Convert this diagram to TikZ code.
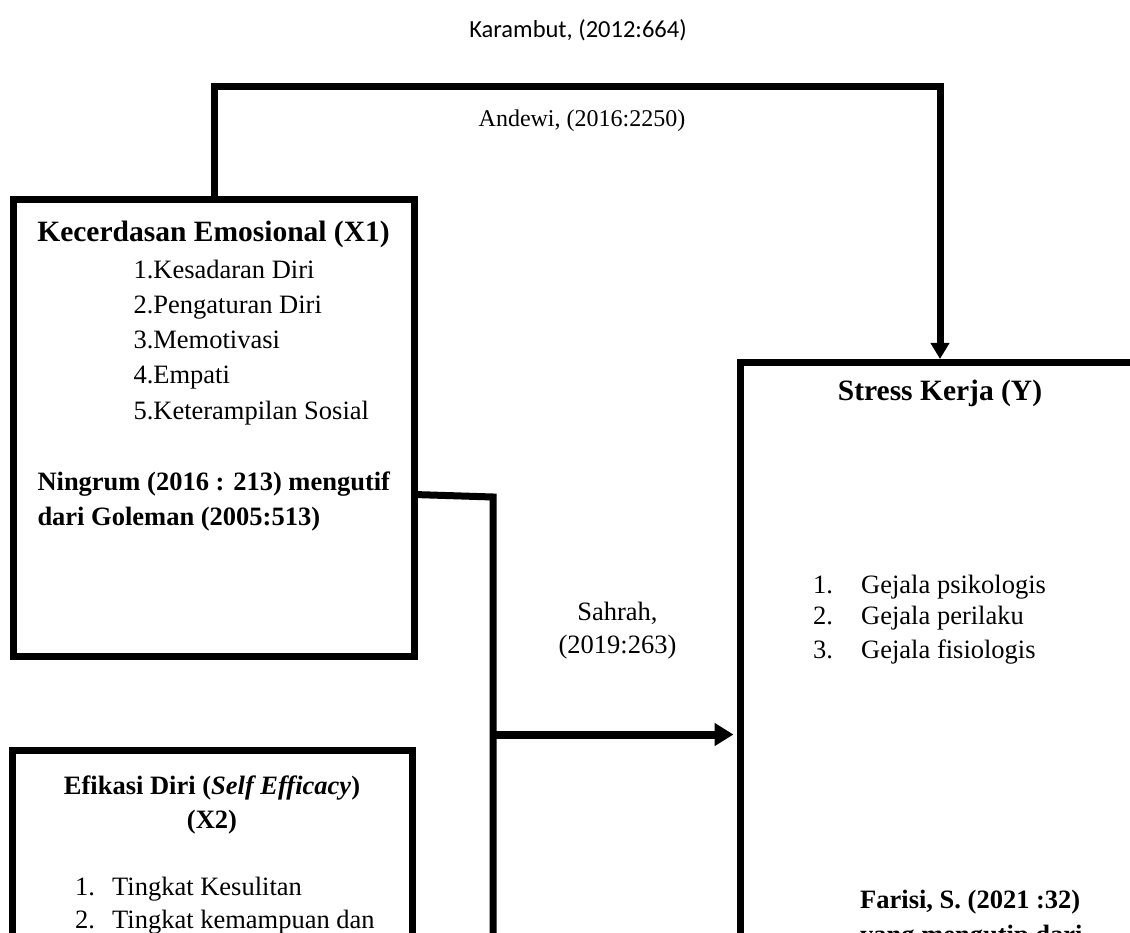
\documentclass[tikz,border=0pt]{standalone}
\usepackage{fontspec}
\setmainfont{Liberation Serif}
\newfontfamily\calib{Carlito}
\usetikzlibrary{arrows.meta}
\begin{document}
\begin{tikzpicture}[x=1pt,y=-1pt,
  box/.style={draw,line width=7pt,rectangle,inner sep=0pt,line join=miter},
  conn/.style={draw,line width=7pt,line join=miter},
  txt/.style={inner sep=0pt,font=\fontsize{26.5}{30}\selectfont},
  btxt/.style={inner sep=0pt,font=\fontsize{26.5}{30}\selectfont\bfseries},
  ttl/.style={inner sep=0pt,font=\fontsize{29.5}{33}\selectfont\bfseries,anchor=base},
  lbl/.style={inner sep=0pt,font=\fontsize{24}{28}\selectfont,anchor=base},
]
\useasboundingbox (0,0) rectangle (1130,933);
\clip (0,0) rectangle (1130,933);
\fill[white] (0,0) rectangle (1130,933);

% boxes
\node[box,minimum width=401pt,minimum height=456.5pt] (X1) at (213.5,428.25) {};
\node[box,minimum width=400pt,minimum height=349.5pt] (X2) at (212,925.25) {};
\node[box,minimum width=459.5pt,minimum height=737.5pt] (Y) at (970.25,731.25) {};

% connector X1 -> Y (top)
\coordinate (tl) at (214.5,86.5);
\coordinate (tr) at (940,86.5);
\coordinate (ytop) at (940,362.5);
\draw[conn,-{Triangle[width=18pt,length=16pt]},shorten >=3.5pt] (X1.north -| tl) -- (tl) -- (tr) -- (ytop);

% connector X1, X2 -> Y (side)
\coordinate (j1) at (414,494.5);
\coordinate (j2) at (493,497);
\coordinate (j3) at (493,1000);
\draw[conn] (j1) -- (j2) -- (j3);
\coordinate (j4) at (493,734.5);
\draw[line width=8pt,-{Triangle[width=22pt,length=19pt]},shorten >=3.5pt] (j4) -- (j4 -| Y.west);

% labels
\node[lbl,font=\calib\fontsize{24.5}{28}\selectfont] (karambut) at (578,38) {Karambut, (2012:664)};
\node[lbl] (andewi) at (582,127) {Andewi, (2016:2250)};
\node[txt,anchor=base] (sahrah1) at (617.5,620) {Sahrah,};
\node[txt,anchor=base] (sahrah2) at (617.5,653) {(2019:263)};

% X1 content
\node[ttl] (x1t) at (213.5,241.7) {Kecerdasan Emosional (X1)};
\node[txt,anchor=base west] (x1a) at (133.3,278.3) {1.Kesadaran Diri};
\node[txt,anchor=base west] (x1b) at (133.3,313.3) {2.Pengaturan Diri};
\node[txt,anchor=base west] (x1c) at (133.3,348.3) {3.Memotivasi};
\node[txt,anchor=base west] (x1d) at (133.3,383.3) {4.Empati};
\node[txt,anchor=base west] (x1e) at (133.3,419.3) {5.Keterampilan Sosial};
\node[btxt,anchor=base west] (x1r1) at (37.3,490) {Ningrum (2016 : 213) mengutif};
\node[btxt,anchor=base west] (x1r2) at (37.3,525) {dari Goleman (2005:513)};

% X2 content
\node[btxt,anchor=base] (x2t1) at (212,794) {Efikasi Diri (\textit{Self Efficacy})};
\node[btxt,anchor=base] (x2t2) at (212,828) {(X2)};
\node[txt,anchor=base west] (x2n1) at (75,895) {1.};
\node[txt,anchor=base west] (x2a) at (112,895) {Tingkat Kesulitan};
\node[txt,anchor=base west] (x2n2) at (75,928) {2.};
\node[txt,anchor=base west] (x2b) at (112,928) {Tingkat kemampuan dan};

% Y content
\node[ttl] (yt) at (940,400) {Stress Kerja (Y)};
\node[txt,anchor=base west] (yn1) at (813,593.3) {1.};
\node[txt,anchor=base west] (ya) at (861,593.3) {Gejala psikologis};
\node[txt,anchor=base west] (yn2) at (813,624.3) {2.};
\node[txt,anchor=base west] (yb) at (861,624.3) {Gejala perilaku};
\node[txt,anchor=base west] (yn3) at (813,658.3) {3.};
\node[txt,anchor=base west] (yc) at (861,658.3) {Gejala fisiologis};
\node[btxt,anchor=base west] (yr1) at (860,908) {Farisi, S. (2021 :32)};
\node[btxt,anchor=base west] (yr2) at (860,943) {yang mengutip dari};
\end{tikzpicture}
\end{document}
